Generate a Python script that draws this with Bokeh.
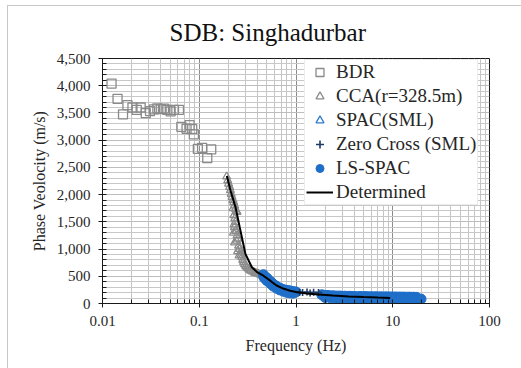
from bokeh.plotting import figure
from bokeh.models import (Range1d, FixedTicker, NumeralTickFormatter, CustomJSTickFormatter,
                          Legend, LegendItem, Title)
from bokeh.embed import file_html
from bokeh.resources import INLINE

# BDR (gray squares)
bdr_f = [0.0124, 0.0143, 0.0163, 0.0181, 0.0204, 0.0226, 0.0248, 0.0280, 0.0310, 0.0340,
         0.0369, 0.0400, 0.0432, 0.0468, 0.0506, 0.0548, 0.0617, 0.0653, 0.0739, 0.0794,
         0.0846, 0.0880, 0.0967, 0.107, 0.121, 0.133]
bdr_v = [4040, 3760, 3475, 3645, 3600, 3555, 3600, 3495, 3535, 3565,
         3585, 3570, 3580, 3555, 3530, 3555, 3555, 3245, 3210, 3275,
         3205, 3105, 2840, 2860, 2670, 2830]

# CCA (r=328.5 m), gray triangles
cca_f = [0.192, 0.197, 0.201, 0.206, 0.210, 0.214, 0.218, 0.223, 0.227, 0.232, 0.236, 0.241,
         0.246, 0.228, 0.233, 0.236, 0.231, 0.240, 0.246, 0.250, 0.255, 0.261, 0.266, 0.271,
         0.276, 0.282, 0.287, 0.294, 0.302, 0.310, 0.320, 0.330, 0.340, 0.355, 0.370, 0.380,
         0.395, 0.410, 0.425, 0.440, 0.455, 0.470,
         0.224, 0.229, 0.226, 0.232, 0.238, 0.243, 0.249, 0.258]
cca_v = [2330, 2260, 2200, 2140, 2080, 2010, 1955, 1900, 1860, 1800, 1740, 1700,
         1680, 1620, 1560, 1495, 1400, 1330, 1250, 1190, 1060, 1000, 940, 890,
         850, 800, 760, 720, 690, 660, 640, 620, 600, 585, 570, 560,
         550, 545, 530, 520, 505, 490,
         1750, 1450, 1300, 1120, 1330, 1150, 960, 880]

# SPAC (SML), blue triangles
spac_f = [0.50, 0.55, 0.60, 0.70, 0.80, 0.90]
spac_v = [470, 400, 340, 275, 240, 220]

# Zero Cross (SML)
zc_f = [1.09, 1.17, 1.30, 1.40, 1.52, 1.71]
zc_v = [205, 200, 210, 195, 205, 200]

# LS-SPAC, blue circles
ls_f = [0.46, 0.47, 0.48, 0.49, 0.50, 0.51, 0.52, 0.53, 0.55, 0.56, 0.58, 0.60, 0.62, 0.64,
        0.66, 0.68, 0.70, 0.73, 0.76, 0.79, 0.82, 0.85, 0.88, 0.91, 0.95, 1.00,
        1.85, 1.95, 2.05, 2.15, 2.25, 2.40, 2.55, 2.70, 2.85, 3.00, 3.20, 3.40, 3.60, 3.80,
        4.00, 4.30, 4.60, 4.90, 5.20, 5.50, 5.90, 6.30, 6.70, 7.10, 7.50, 8.00, 8.50, 9.00,
        9.50, 10.0, 10.6, 11.2, 11.8, 12.5, 13.2, 14.0, 14.8, 15.6, 16.5, 17.5,
        2.00, 2.30, 2.60, 2.90, 3.30, 3.70, 4.10, 4.50, 5.00, 5.60, 6.20, 6.90, 7.70, 8.60,
        9.60, 10.8, 12.0, 13.5, 15.0, 16.8, 18.5, 19.6,
        0.47, 0.50, 0.54, 0.58, 0.63, 0.68, 0.74, 0.80, 0.86, 0.93]
ls_v = [530, 500, 470, 455, 470, 440, 430, 410, 395, 380, 355, 335, 320, 300,
        290, 280, 270, 255, 250, 240, 235, 232, 228, 220, 215, 212,
        160, 150, 148, 145, 140, 142, 138, 135, 137, 132, 135, 130, 133, 128,
        130, 126, 129, 125, 127, 124, 126, 122, 125, 121, 123, 120, 122, 119,
        121, 118, 120, 117, 119, 116, 118, 115, 117, 114, 116, 113,
        110, 100, 95, 90, 92, 85, 88, 82, 86, 80, 84, 78, 82, 76,
        80, 75, 78, 74, 77, 73, 76, 82,
        470, 420, 370, 320, 280, 250, 225, 205, 195, 190]

# Determined dispersion curve
det_f = [0.193, 0.210, 0.237, 0.262, 0.300, 0.350, 0.400, 0.460, 0.550, 0.630, 0.750, 0.870,
         1.00, 1.30, 1.70, 2.40, 3.50, 5.00, 7.00, 9.40]
det_v = [2340, 2080, 1770, 1400, 910, 665, 570, 510, 410, 330, 270, 235,
         210, 185, 165, 145, 130, 118, 108, 100]

x_ticks = [0.01, 0.1, 1, 10, 100]
y_ticks = [0, 500, 1000, 1500, 2000, 2500, 3000, 3500, 4000, 4500]

FONT = "'Liberation Serif', 'Times New Roman', serif"
TXT = "#262626"

p = figure(width=513, height=362, x_axis_type="log",
           x_range=Range1d(0.01, 100), y_range=Range1d(0, 4500),
           output_backend="svg", toolbar_location=None,
           min_border_left=94, min_border_right=32, min_border_top=52, min_border_bottom=65,
           margin=(6, 0, 0, 8))
p.styles = {"outline": "1px solid #c8c8c8"}

p.title.text = "SDB: Singhadurbar"
p.title.text_font = FONT
p.title.text_font_size = "25px"
p.title.text_font_style = "normal"
p.title.text_color = "#111111"
p.title.align = "left"
p.title.offset = 67
p.title.standoff = 17

# thin empty strip between the title and the plot frame
gap = Title(text=" ", text_font_size="1px", standoff=1)
p.above = [gap] + list(p.above)

minor_x = [m * 10.0 ** e for e in (-2, -1, 0, 1) for m in range(2, 10)]
minor_y = [v for v in range(0, 4501, 100) if v % 500]

p.xaxis.ticker = FixedTicker(ticks=x_ticks, minor_ticks=minor_x)
p.yaxis.ticker = FixedTicker(ticks=y_ticks, minor_ticks=minor_y)
p.xaxis.formatter = CustomJSTickFormatter(code="return String(tick);")
p.yaxis.formatter = NumeralTickFormatter(format="0,0")

p.xaxis.axis_label = "Frequency (Hz)"
p.yaxis.axis_label = "Phase Veolocity (m/s)"
for ax in (p.xaxis, p.yaxis):
    ax.axis_label_text_font = FONT
    ax.axis_label_text_font_size = "16px"
    ax.axis_label_text_font_style = "normal"
    ax.axis_label_text_color = TXT
    ax.major_label_text_font = FONT
    ax.major_label_text_font_size = "15px"
    ax.major_label_text_color = TXT
    ax.axis_line_color = "#1a1a1a"
    ax.major_tick_line_color = "#1a1a1a"
    ax.minor_tick_line_color = "#1a1a1a"
    ax.major_tick_in = 4
    ax.major_tick_out = 4
    ax.minor_tick_in = 4
    ax.minor_tick_out = 0
p.xaxis.major_label_standoff = 8
p.xaxis.axis_label_standoff = 8
p.yaxis.major_label_standoff = 8
p.yaxis.axis_label_standoff = 6

p.xgrid.grid_line_color = "#8c8c8c"
p.xgrid.minor_grid_line_color = "#c4c4c4"
p.ygrid.grid_line_color = "#bdbdbd"
p.ygrid.minor_grid_line_color = "#c8c8c8"
p.outline_line_color = "#1a1a1a"
p.outline_line_width = 1

r_bdr = p.scatter(bdr_f, bdr_v, marker="square", size=9, fill_color=None,
                  line_color="#8a8a8a", line_width=1.3)
r_cca = p.scatter(cca_f, cca_v, marker="triangle", size=8, fill_color=None,
                  line_color="#8c8c8c", line_width=1.3)
r_spac = p.scatter(spac_f, spac_v, marker="triangle", size=8, fill_color=None,
                   line_color="#2e7bd0", line_width=1.3)
r_ls = p.scatter(ls_f, ls_v, marker="circle", size=10, fill_color="#1f6fc9",
                 line_color="#1f6fc9", line_width=1)
r_zc = p.scatter(zc_f, zc_v, marker="cross", size=7, line_color="#1f3864", line_width=1.6)
r_det = p.line(det_f, det_v, line_color="#000000", line_width=2)

legend = Legend(items=[
    LegendItem(label="BDR", renderers=[r_bdr]),
    LegendItem(label="CCA(r=328.5m)", renderers=[r_cca]),
    LegendItem(label="SPAC(SML)", renderers=[r_spac]),
    LegendItem(label="Zero Cross (SML)", renderers=[r_zc]),
    LegendItem(label="LS-SPAC", renderers=[r_ls]),
    LegendItem(label="Determined", renderers=[r_det]),
], location=(202, 98))
legend.label_text_font = FONT
legend.label_text_font_size = "19px"
legend.label_text_color = TXT
legend.glyph_width = 27
legend.glyph_height = 20
legend.label_height = 20
legend.label_standoff = 3
legend.spacing = 2
legend.padding = 1
legend.margin = 0
legend.border_line_color = "#d9d9d9"
legend.background_fill_color = "white"
legend.background_fill_alpha = 1
p.add_layout(legend)

open("out.html", "w").write(file_html(p, INLINE))
